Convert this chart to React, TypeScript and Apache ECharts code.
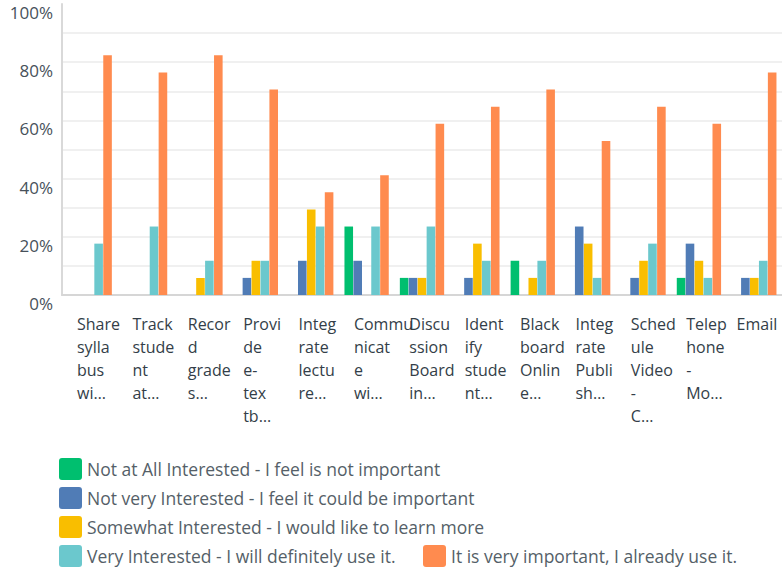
import React, { useEffect, useRef } from 'react';
import * as echarts from 'echarts';

const categories = [
  'Share\nsylla\nbus\nwi…',
  'Track\nstude\nnt\nat…',
  'Recor\nd\ngrade\ns…',
  'Provi\nde\ne-\ntex\ntb…',
  'Integ\nrate\nlectu\nre…',
  'Commu\nnicat\ne\nwi…',
  'Discu\nssion\nBoard\nin…',
  'Ident\nify\nstude\nnt…',
  'Black\nboard\nOnlin\ne…',
  'Integ\nrate\nPubli\nsh…',
  'Sched\nule\nVideo\n-\nC…',
  'Telep\nhone\n-\nMo…',
  'Email',
];

const seriesNames = [
  'Not at All Interested - I feel is not important',
  'Not very Interested - I feel it could be important',
  'Somewhat Interested - I would like to learn more',
  'Very Interested - I will definitely use it.',
  'It is very important, I already use it.',
];

const seriesColors = ['#00bf6f', '#507cb6', '#f9be00', '#6bc8cd', '#ff8b4f'];

const notAtAll = [0, 0, 0, 0, 0, 23.53, 5.88, 0, 11.76, 0, 0, 5.88, 0];
const notVery = [0, 0, 0, 5.88, 11.76, 11.76, 5.88, 5.88, 0, 23.53, 5.88, 17.65, 5.88];
const somewhat = [0, 0, 5.88, 11.76, 29.41, 0, 5.88, 17.65, 5.88, 17.65, 11.76, 11.76, 5.88];
const veryInterested = [17.65, 23.53, 11.76, 11.76, 23.53, 23.53, 23.53, 11.76, 11.76, 5.88, 17.65, 5.88, 11.76];
const alreadyUse = [82.35, 76.47, 82.35, 70.59, 35.29, 41.18, 58.82, 64.71, 70.59, 52.94, 64.71, 58.82, 76.47];

const seriesData = [notAtAll, notVery, somewhat, veryInterested, alreadyUse];

const FONT = '"Open Sans", "Noto Sans", sans-serif';
const LEGEND_ICON = 'path://M3,0H20A3,3 0 0 1 23,3V19A3,3 0 0 1 20,22H3A3,3 0 0 1 0,19V3A3,3 0 0 1 3,0Z';

export default function App() {
  const ref = useRef<HTMLDivElement>(null);

  useEffect(() => {
    if (!ref.current) return;
    const chart = echarts.init(ref.current, undefined, { renderer: 'svg' });
    const legendText = { fontSize: 17.5, fontFamily: FONT, color: '#555f68' };
    const labelShift = 12.7;
    chart.setOption({
      animation: false,
      backgroundColor: '#ffffff',
      grid: [
        { left: 62, right: 0, top: 4, bottom: 278, containLabel: false },
        { left: 62 - labelShift, right: labelShift, top: 4, bottom: 278, containLabel: false },
      ],
      legend: [
        {
          orient: 'vertical',
          left: 59,
          top: 458,
          height: 130,
          padding: 0,
          itemWidth: 23,
          itemHeight: 22,
          itemGap: 7,
          itemTextGap: 9,
          icon: LEGEND_ICON,
          data: seriesNames.slice(0, 4),
          textStyle: legendText,
          selectedMode: false,
        },
        {
          orient: 'horizontal',
          left: 423,
          top: 545,
          padding: 0,
          itemWidth: 23,
          itemHeight: 22,
          itemTextGap: 9,
          icon: LEGEND_ICON,
          data: seriesNames.slice(4),
          textStyle: legendText,
          selectedMode: false,
        },
      ],
      xAxis: [
        {
          type: 'category',
          gridIndex: 0,
          data: categories,
          axisTick: { show: false },
          axisLine: { show: true, lineStyle: { color: '#d6d6d6', width: 2 } },
          axisLabel: { show: false },
        },
        {
          type: 'category',
          gridIndex: 1,
          data: categories,
          axisTick: { show: false },
          axisLine: { show: false },
          splitLine: { show: false },
          axisLabel: {
            interval: 0,
            margin: 17,
            align: 'left',
            fontSize: 16,
            lineHeight: 23,
            fontFamily: FONT,
            color: '#333e48',
            formatter: (value: string) => (value.indexOf('\n') < 0 ? `{e|${value}}` : value),
            rich: {
              e: { fontSize: 16, lineHeight: 23, fontFamily: FONT, color: '#333e48', padding: [0, 0, 0, -5] },
            },
          },
        },
      ],
      yAxis: [
        {
          type: 'value',
          gridIndex: 0,
          min: 0,
          max: 100,
          interval: 10,
          axisLine: { show: true, lineStyle: { color: '#d9d9d9', width: 2 } },
          axisTick: { show: false },
          splitLine: { show: true, showMaxLine: false, lineStyle: { color: '#ebebeb', width: 1.5 } },
          axisLabel: {
            margin: 9,
            verticalAlign: 'top',
            lineHeight: 17,
            fontSize: 17,
            fontFamily: FONT,
            color: '#47515a',
            formatter: (v: number) => (v % 20 === 0 ? `${v}%` : ''),
          },
        },
        {
          type: 'value',
          gridIndex: 1,
          min: 0,
          max: 100,
          show: false,
        },
      ],
      series: seriesNames.map((name, i) => ({
        name,
        type: 'bar',
        xAxisIndex: 0,
        yAxisIndex: 0,
        data: seriesData[i],
        barCategoryGap: '20%',
        barGap: '4%',
        itemStyle: { color: seriesColors[i] },
      })),
    });
    return () => chart.dispose();
  }, []);

  return (
    <div
      ref={ref}
      style={{ position: 'fixed', left: 0, top: 0, width: 782, height: 573, background: '#fff' }}
    />
  );
}
